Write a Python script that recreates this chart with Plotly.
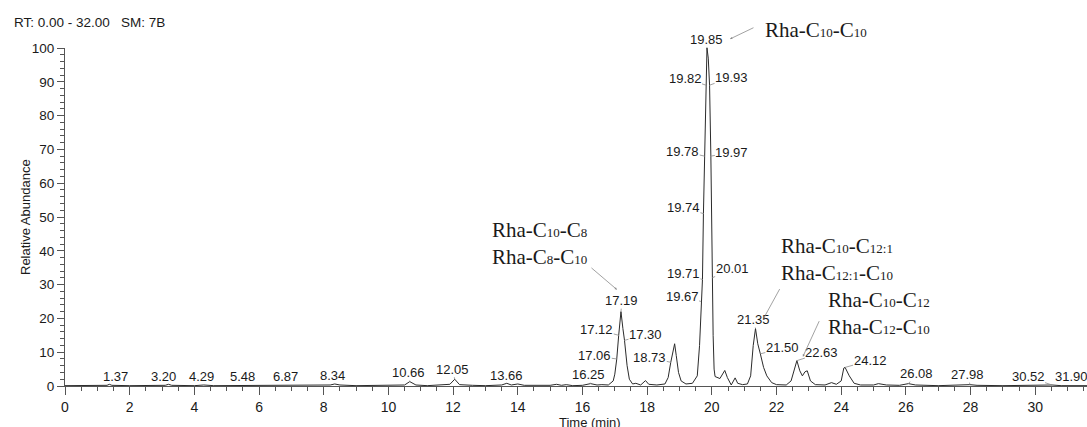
import plotly.graph_objects as go

# ---------------------------------------------------------------------------
# Chromatogram: retention time (min) vs. relative abundance (%)
# ---------------------------------------------------------------------------
time_min = [
    0.00, 0.50, 1.00, 1.30, 1.37, 1.45, 2.00, 2.60, 3.10, 3.20, 3.30, 4.00,
    4.29, 4.60, 5.20, 5.48, 5.70, 6.30, 6.87, 7.10, 7.60, 8.20, 8.34, 8.50,
    9.00, 9.50, 10.00, 10.50, 10.66, 10.85, 11.20, 11.50, 11.90, 12.05, 12.20,
    12.60, 13.00, 13.50, 13.66, 13.80, 14.00, 14.20, 14.60, 15.00, 15.20,
    15.35, 15.50, 15.70, 16.00, 16.25, 16.45, 16.60, 16.80, 16.95, 17.00,
    17.06, 17.12, 17.19, 17.25, 17.30, 17.38, 17.45, 17.55, 17.65, 17.80,
    17.95, 18.05, 18.30, 18.55, 18.65, 18.73, 18.80, 18.85, 18.90, 18.97,
    19.05, 19.20, 19.40, 19.55, 19.62, 19.67, 19.71, 19.74, 19.78, 19.82,
    19.85, 19.89, 19.93, 19.97, 20.01, 20.04, 20.07, 20.10, 20.25, 20.40,
    20.48, 20.60, 20.72, 20.80, 20.95, 21.10, 21.20, 21.28, 21.35, 21.42,
    21.50, 21.60, 21.70, 21.85, 22.00, 22.30, 22.45, 22.55, 22.63, 22.72,
    22.80, 22.88, 22.95, 23.05, 23.20, 23.50, 23.70, 23.85, 24.00, 24.08,
    24.12, 24.25, 24.40, 24.60, 25.00, 25.15, 25.40, 25.80, 26.08, 26.30,
    27.00, 27.98, 28.20, 29.00, 29.80, 30.52, 30.80, 31.20, 31.90, 32.00,
]
rel_abund = [
    0.1, 0.2, 0.1, 0.2, 0.5, 0.2, 0.1, 0.2, 0.2, 0.5, 0.2, 0.1,
    0.3, 0.1, 0.1, 0.3, 0.1, 0.1, 0.3, 0.1, 0.1, 0.3, 0.6, 0.3,
    0.1, 0.2, 0.1, 0.3, 1.3, 0.3, 0.1, 0.2, 0.5, 2.0, 0.4,
    0.2, 0.1, 0.3, 0.8, 0.3, 0.6, 0.2, 0.1, 0.2, 0.5,
    0.2, 0.4, 0.1, 0.2, 0.7, 0.3, 0.4, 0.3, 1.5, 3.5,
    8.0, 15.0, 22.0, 17.0, 13.5, 6.0, 2.0, 0.6, 0.8, 0.3,
    1.6, 0.5, 0.3, 0.6, 2.5, 7.0, 11.0, 12.5, 9.0, 4.0,
    1.5, 0.6, 0.8, 3.0, 12.0, 25.0, 31.5, 51.0, 68.0, 89.0,
    100.0, 97.0, 89.0, 68.0, 32.0, 15.0, 5.0, 2.8, 2.2, 4.6,
    2.5, 0.3, 2.4, 0.8, 0.4, 0.6, 3.0, 12.0, 17.0, 12.5,
    9.5, 5.5, 3.0, 1.0, 0.4, 0.3, 1.5, 5.0, 7.5, 4.5,
    3.0, 4.2, 4.5, 1.5, 0.4, 0.3, 1.0, 0.5, 1.5, 5.3,
    5.5, 3.0, 0.8, 0.3, 0.3, 0.7, 0.3, 0.2, 0.7, 0.3,
    0.1, 0.4, 0.2, 0.1, 0.2, 0.3, 0.1, 0.1, 0.3, 0.1,
]

# Retention times printed next to the trace
peak_label_times = [
    1.37, 3.20, 4.29, 5.48, 6.87, 8.34, 10.66, 12.05, 13.66, 16.25,
    17.06, 17.12, 17.19, 17.30, 18.73, 19.67, 19.71, 19.74, 19.78, 19.82,
    19.85, 19.93, 19.97, 20.01, 21.35, 21.50, 22.63, 24.12, 26.08, 27.98,
    30.52, 31.90,
]

# Compound assignments (name parts, alkyl chains as subscripts)
compound_lines = [
    [("Rha-C", "10"), ("-C", "10")],
    [("Rha-C", "10"), ("-C", "8")], [("Rha-C", "8"), ("-C", "10")],
    [("Rha-C", "10"), ("-C", "12:1")], [("Rha-C", "12:1"), ("-C", "10")],
    [("Rha-C", "10"), ("-C", "12")], [("Rha-C", "12"), ("-C", "10")],
]
compound_groups = [[0], [1, 2], [3, 4], [5, 6]]
compound_peak_times = [19.85, 17.19, 21.35, 22.63]

x_ticks = list(range(0, 32, 2))
y_ticks = list(range(0, 101, 10))

# ---------------------------------------------------------------------------
# Placement of the text (pixel offsets from the labelled point)
# ---------------------------------------------------------------------------
X_MAX = 31.6
label_offsets = {
    1.37: (6, -8), 3.20: (-5, -8), 4.29: (-2, -8), 5.48: (0, -8),
    6.87: (-2, -8), 8.34: (-2, -8), 10.66: (-1, -9), 12.05: (-2, -10),
    13.66: (0, -8), 16.25: (-2, -9), 17.06: (-22, -3), 17.12: (-22, -6),
    17.19: (1, -11), 17.30: (21, -6), 18.73: (-21, -5), 19.67: (-19, -5),
    19.71: (-19, -6), 19.74: (-20, -6), 19.78: (-22, -5), 19.82: (-21, -7),
    19.85: (0, -9), 19.93: (22, -8), 19.97: (21, -4), 20.01: (20, -9),
    21.35: (-2, -9), 21.50: (22, -6), 22.63: (25, -8), 24.12: (25, -7),
    26.08: (8, -10), 27.98: (-2, -10), 30.52: (-24, -8), 31.90: (-25, -8),
}
# (text shift x, text shift y, leader tip shift x, tip shift y, tail ax, tail ay)
compound_layout = [
    (109, 18, 23, 9, 25, -12),
    (-81, 68, -4, 22, -27, -23),
    (81, 69, 8, 10, 17, -31),
    (82, 47, 6, 4, 17, -37),
]

SANS = "Liberation Sans, Arial, Helvetica, sans-serif"
SERIF = "Liberation Serif, Times New Roman, serif"
INK = "#1a1a1a"
AXIS = "#555555"
LEADER = "#8a8a8a"
SUB_SIZE = 13

value_at = dict(zip(time_min, rel_abund))


def chem_line(parts):
    out = ""
    for main, sub in parts:
        out += f'{main}<span style="font-size:{SUB_SIZE}px">{sub}</span>'
    return out


fig = go.Figure()
fig.add_trace(go.Scatter(
    x=time_min, y=rel_abund, mode="lines",
    line=dict(color="#2b2b2b", width=1),
    hoverinfo="skip", showlegend=False,
))

annotations = []
for t in peak_label_times:
    dx, dy = label_offsets[t]
    ann = dict(
        x=t, y=value_at[t], text=f"{t:.2f}", showarrow=True,
        ax=dx, ay=dy, arrowhead=0, arrowwidth=0.8, arrowcolor=LEADER,
        standoff=0, font=dict(family=SANS, size=13, color=INK),
        borderpad=0,
    )
    if t > X_MAX:
        ann.update(xref="paper", x=t / X_MAX)
    annotations.append(ann)

for group, t, (sx, sy, tx, ty, ax, ay) in zip(compound_groups,
                                              compound_peak_times,
                                              compound_layout):
    v = value_at[t]
    text = "<br>".join(chem_line(compound_lines[i]) for i in group)
    annotations.append(dict(
        x=t, y=v, text=text, showarrow=False, xshift=sx, yshift=sy,
        align="left", font=dict(family=SERIF, size=21, color=INK),
    ))
    annotations.append(dict(
        x=t, y=v, text="", showarrow=True, xshift=tx, yshift=ty,
        ax=ax, ay=ay, arrowhead=2, arrowsize=0.6, arrowwidth=0.8,
        arrowcolor=LEADER, standoff=0,
    ))

annotations.append(dict(
    xref="paper", yref="paper", x=-65 / 1022, y=1 + 25 / 338,
    xanchor="left", yanchor="middle", xshift=12, showarrow=False,
    text="RT: 0.00 - 32.00\u00a0\u00a0 SM: 7B",
    font=dict(family=SANS, size=13.5, color=INK),
))
annotations.append(dict(
    xref="paper", yref="paper", x=(590 - 65) / 1022, y=0, yshift=-36,
    xanchor="center", yanchor="middle", showarrow=False,
    text="Time (min)", font=dict(family=SANS, size=13, color=INK),
))
annotations.append(dict(
    xref="paper", yref="paper", x=(25 - 65) / 1022, y=0.5,
    xanchor="center", yanchor="middle", showarrow=False, textangle=-90,
    text="Relative Abundance", font=dict(family=SANS, size=13, color=INK),
))

fig.update_layout(
    width=1087, height=427,
    margin=dict(l=65, r=0, t=48, b=41),
    plot_bgcolor="white", paper_bgcolor="white",
    annotations=annotations,
    xaxis=dict(
        range=[0, X_MAX], tickvals=x_ticks, ticks="outside", ticklen=8,
        tickwidth=1, tickcolor=AXIS, showline=True, linecolor=AXIS,
        linewidth=1, showgrid=False, zeroline=False,
        tickfont=dict(family=SANS, size=14, color=INK),
        minor=dict(dtick=0.5, tick0=0, ticks="outside", ticklen=4,
                   tickcolor=AXIS, showgrid=False),
    ),
    yaxis=dict(
        range=[0, 100], tickvals=y_ticks, ticks="outside", ticklen=7,
        tickwidth=1, tickcolor=AXIS, showline=True, linecolor=AXIS,
        linewidth=1, showgrid=False, zeroline=False,
        tickfont=dict(family=SANS, size=13.5, color=INK),
        minor=dict(dtick=2, tick0=0, ticks="outside", ticklen=4,
                   tickcolor=AXIS, showgrid=False),
    ),
)

fig.write_html("out.html")
